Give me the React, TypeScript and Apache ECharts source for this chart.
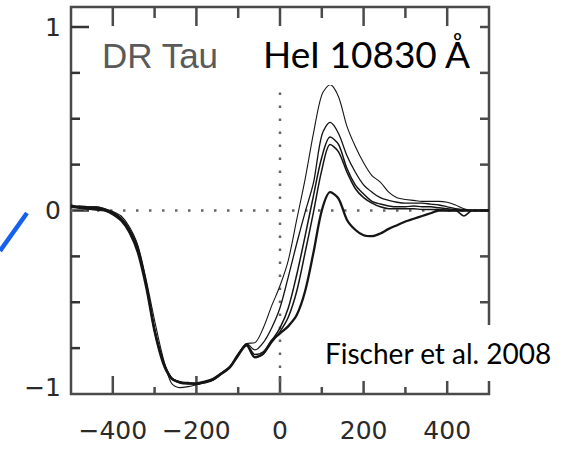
import React, { useEffect, useRef } from "react";
import * as echarts from "echarts";

// Velocity grid (km/s)
const velocity = [
  -500, -480, -460, -440, -420, -400, -380, -360, -340, -320, -300, -280, -260, -240, -220, -200, -180,
  -160, -140, -120, -100, -80, -60, -40, -20, 0, 20, 40, 60, 80, 100, 120, 140, 160, 180, 200, 220, 240,
  260, 280, 300, 320, 340, 360, 380, 400, 420, 440, 460, 480, 500,
];

// Normalised flux profiles (five epochs)
const fluxA = [
  0.03, 0.02, 0.02, 0.02, 0.01, -0.005, -0.03, -0.09, -0.19, -0.38, -0.6, -0.8, -0.94, -0.965, -0.96,
  -0.95, -0.94, -0.925, -0.89, -0.85, -0.785, -0.725, -0.72, -0.64, -0.52, -0.41, -0.27, -0.05, 0.17,
  0.42, 0.63, 0.685, 0.62, 0.46, 0.35, 0.26, 0.19, 0.155, 0.1, 0.07, 0.06, 0.055, 0.05, 0.05, 0.05,
  0.045, 0.03, 0.01, 0.0, 0.0, 0.0,
];
const fluxB = [
  0.025, 0.02, 0.015, 0.02, 0.01, -0.01, -0.04, -0.1, -0.2, -0.39, -0.64, -0.81, -0.91, -0.935, -0.94,
  -0.945, -0.935, -0.925, -0.89, -0.855, -0.785, -0.725, -0.76, -0.72, -0.64, -0.53, -0.36, -0.18, -0.01,
  0.15, 0.41, 0.48, 0.42, 0.3, 0.21, 0.14, 0.1, 0.07, 0.055, 0.045, 0.04, 0.04, 0.04, 0.035, 0.03,
  0.02, 0.01, 0.005, 0.0, 0.0, 0.0,
];
const fluxC = [
  0.02, 0.025, 0.02, 0.015, 0.005, -0.01, -0.045, -0.11, -0.21, -0.4, -0.65, -0.82, -0.915, -0.94,
  -0.945, -0.945, -0.935, -0.92, -0.885, -0.85, -0.78, -0.73, -0.785, -0.77, -0.71, -0.64, -0.53, -0.35,
  -0.14, 0.08, 0.29, 0.4, 0.36, 0.23, 0.14, 0.09, 0.05, 0.035, 0.025, 0.02, 0.02, 0.025, 0.02, 0.02,
  0.015, 0.01, 0.005, 0.0, 0.0, 0.0, 0.0,
];
const fluxD = [
  0.03, 0.015, 0.01, 0.01, 0.0, -0.015, -0.05, -0.12, -0.22, -0.41, -0.66, -0.82, -0.91, -0.935, -0.94,
  -0.94, -0.93, -0.915, -0.885, -0.855, -0.785, -0.735, -0.8, -0.78, -0.72, -0.66, -0.58, -0.44, -0.23,
  -0.01, 0.22, 0.36, 0.32, 0.21, 0.12, 0.07, 0.04, 0.02, 0.01, 0.01, 0.01, 0.01, 0.005, 0.005, 0.005,
  0.0, 0.0, -0.03, 0.0, 0.0, 0.0,
];
const fluxE = [
  0.02, 0.015, 0.01, 0.005, 0.0, -0.02, -0.055, -0.12, -0.23, -0.42, -0.66, -0.83, -0.915, -0.935,
  -0.94, -0.945, -0.935, -0.92, -0.89, -0.855, -0.79, -0.735, -0.8, -0.78, -0.71, -0.67, -0.63, -0.57,
  -0.44, -0.23, 0.0, 0.1, 0.065, -0.05, -0.105, -0.135, -0.14, -0.125, -0.1, -0.08, -0.06, -0.045,
  -0.03, -0.015, 0.0, 0.0, 0.0, 0.0, 0.0, 0.0, 0.0,
];

const profiles = [
  { name: "A", flux: fluxA, width: 1.1 },
  { name: "B", flux: fluxB, width: 1.3 },
  { name: "C", flux: fluxC, width: 1.5 },
  { name: "D", flux: fluxD, width: 1.5 },
  { name: "E", flux: fluxE, width: 2.3 },
];

// Tick values
const xLabels = [-400, -200, 0, 200, 400];
const xMajorTicks = [-400, -200, 0, 200, 400];
const xMinorTicks = [-300, -100, 100, 300];
const yLabels = [-1, 0, 1];
const yMajorTicks = [0, 1];
const yMinorTicks = [-0.75, -0.5, -0.25, 0.25, 0.5, 0.75];
const yRightTicks = [-0.75, -0.5, -0.25, 0, 0.25, 0.5, 0.75, 1];

const titleStar = "DR Tau";
const titleLine = "HeI 10830 Å";
const reference = "Fischer et al. 2008";

const X_MIN = -500;
const X_MAX = 500;
const Y_MIN = -1;
const Y_MAX = 1.109;

const FRAME = "#4a4a4a";
const tickFont = "DejaVu Sans";

// side codes: 0 bottom, 1 top, 2 left, 3 right ; items: [x, y, side, lengthPx]
const tickItems: number[][] = [
  ...xMajorTicks.map((v) => [v, Y_MIN, 0, 18]),
  ...xMinorTicks.map((v) => [v, Y_MIN, 0, 7]),
  ...xMajorTicks.map((v) => [v, Y_MAX, 1, 19]),
  ...xMinorTicks.map((v) => [v, Y_MAX, 1, 11]),
  ...yMajorTicks.map((v) => [X_MIN, v, 2, 18]),
  ...yMinorTicks.map((v) => [X_MIN, v, 2, 9]),
  ...yRightTicks.map((v) => [X_MAX, v, 3, 9]),
];

export default function App() {
  const ref = useRef<HTMLDivElement>(null);

  useEffect(() => {
    if (!ref.current) return;
    const chart = echarts.init(ref.current, undefined, { renderer: "svg" });

    const minus = (s: string) => s.replace("-", "\u2212");
    const w = 2.5;

    const option: any = {
      animation: false,
      backgroundColor: "#fff",
      grid: {
        left: 71,
        right: 96,
        top: 7,
        bottom: 57,
        show: true,
        borderColor: FRAME,
        borderWidth: 2.5,
        backgroundColor: "transparent",
      },
      xAxis: {
        type: "value",
        min: X_MIN,
        max: X_MAX,
        splitNumber: 5,
        splitLine: { show: false },
        axisLine: { show: false, onZero: false },
        axisTick: { show: false },
        axisLabel: {
          show: true,
          margin: 24,
          fontFamily: tickFont,
          fontSize: 25,
          color: "#2a2a2a",
          formatter: (v: number) => (xLabels.includes(v) ? minus(String(v)) : ""),
        },
      },
      yAxis: {
        type: "value",
        min: Y_MIN,
        max: Y_MAX,
        interval: 1,
        splitLine: { show: false },
        axisLine: { show: false, onZero: false },
        axisTick: { show: false },
        axisLabel: {
          show: true,
          margin: 10,
          fontFamily: tickFont,
          fontSize: 25,
          color: "#2a2a2a",
          formatter: (v: number) =>
            yLabels.includes(v) ? (v === -1 ? "{lo|" + minus(String(v)) + "}" : String(v)) : "",
          rich: {
            lo: {
              fontFamily: tickFont,
              fontSize: 25,
              color: "#2a2a2a",
              padding: [0, 0, 14, 0],
            },
          },
        },
      },
      series: [
        {
          type: "line",
          name: "zero",
          data: [
            [X_MIN, 0],
            [X_MAX, 0],
          ],
          symbol: "none",
          lineStyle: { color: "#666", width: 2.5, type: [2.5, 10.5] },
        },
        {
          type: "line",
          name: "v0",
          data: [
            [0, Y_MIN],
            [0, 0.68],
          ],
          symbol: "none",
          lineStyle: { color: "#666", width: 2.5, type: [2.5, 10.5] },
        },
        {
          type: "custom",
          name: "ticks",
          clip: false,
          data: tickItems,
          renderItem: (_p: any, api: any) => {
            const p = api.coord([api.value(0), api.value(1)]);
            const side = api.value(2);
            const len = api.value(3);
            let shape;
            if (side === 0) shape = { x: p[0] - w / 2, y: p[1] - len, width: w, height: len };
            else if (side === 1) shape = { x: p[0] - w / 2, y: p[1], width: w, height: len };
            else if (side === 2) shape = { x: p[0], y: p[1] - w / 2, width: len, height: w };
            else shape = { x: p[0] - len, y: p[1] - w / 2, width: len, height: w };
            return { type: "rect", shape, style: { fill: side === 2 ? "#333" : FRAME } };
          },
        },
        ...profiles.map((p) => ({
          type: "line",
          name: p.name,
          data: velocity.map((v, i) => [v, p.flux[i]]),
          symbol: "none",
          smooth: 0.3,
          lineStyle: { color: "#151515", width: p.width },
        })),
      ],
      graphic: [
        {
          type: "line",
          z: 100,
          shape: { x1: 0, y1: 251, x2: 27, y2: 213 },
          style: { stroke: "#1560f0", lineWidth: 4.5 },
        },
        {
          type: "text",
          z: 100,
          x: 102,
          y: 55.5,
          style: {
            text: titleStar,
            font: '35px "Liberation Sans"',
            fill: "#5a5a5a",
            align: "left",
            verticalAlign: "middle",
          },
        },
        {
          type: "rect",
          z: 99,
          shape: { x: 255, y: 30, width: 222, height: 55 },
          style: { fill: "#fff" },
        },
        {
          type: "text",
          z: 100,
          x: 263,
          y: 53.5,
          style: {
            text: titleLine,
            font: '37px Lato',
            fill: "#000",
            align: "left",
            verticalAlign: "middle",
          },
        },
        {
          type: "rect",
          z: 99,
          shape: { x: 318, y: 325, width: 267, height: 56 },
          style: { fill: "#fff" },
        },
        {
          type: "text",
          z: 100,
          x: 325,
          y: 352.5,
          style: {
            text: reference,
            font: '28px Lato',
            fill: "#000",
            align: "left",
            verticalAlign: "middle",
          },
        },
      ],
    };

    chart.setOption(option);
    return () => chart.dispose();
  }, []);

  return (
    <div
      ref={ref}
      style={{ position: "absolute", left: 0, top: 0, width: 585, height: 451, background: "#fff" }}
    />
  );
}
